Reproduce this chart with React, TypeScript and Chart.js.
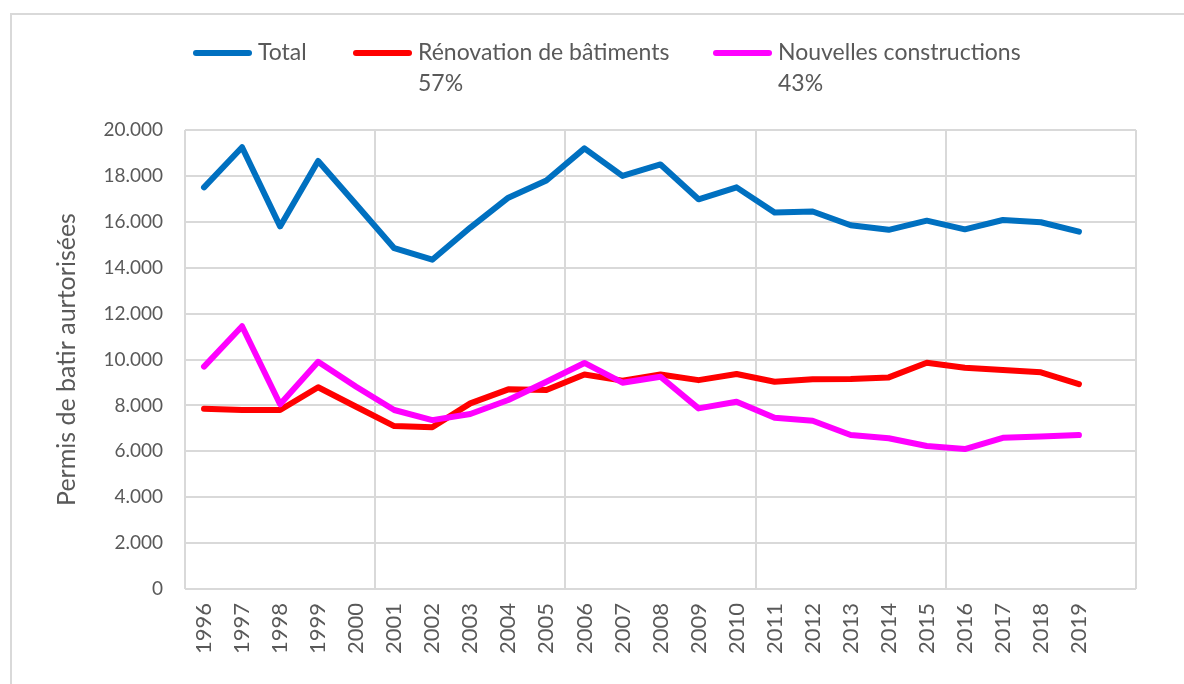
import { useEffect, useRef } from 'react';
import { Chart, registerables } from 'chart.js';

Chart.register(...registerables);

// ---- data ----
const YEARS = ['1996', '1997', '1998', '1999', '2000', '2001', '2002', '2003', '2004', '2005', '2006', '2007',
  '2008', '2009', '2010', '2011', '2012', '2013', '2014', '2015', '2016', '2017', '2018', '2019'];
const SPARE_CATEGORY = ['']; // empty slot Excel leaves at the right end of the axis

const TOTAL = [17500, 19250, 15800, 18650, 16750, 14850, 14350, 15750, 17050, 17800, 19200, 18000,
  18500, 16980, 17500, 16400, 16450, 15850, 15650, 16050, 15670, 16080, 15980, 15570];
const RENOVATION = [7850, 7800, 7800, 8790, 7940, 7100, 7050, 8090, 8700, 8670, 9350, 9080,
  9350, 9100, 9370, 9030, 9140, 9150, 9220, 9860, 9640, 9540, 9440, 8930];
const NOUVELLES = [9690, 11450, 8050, 9900, 8810, 7800, 7360, 7625, 8235, 9030, 9850, 8990,
  9250, 7870, 8160, 7460, 7330, 6710, 6570, 6230, 6100, 6590, 6640, 6710];

const SERIES_NAMES = ['Total', 'Rénovation de bâtiments', 'Nouvelles constructions'];
const SERIES_SHARES = ['', '57%', '43%'];
const SERIES_COLORS = ['#0070C0', '#FF0000', '#FF00FF'];
const Y_AXIS_TITLE = 'Permis de batir aurtorisées';
const Y_MIN = 0;
const Y_MAX = 20000;
const Y_STEP = 2000;

// ---- style ----
const FONT = 'Lato, "Open Sans", sans-serif';
const TEXT = '#595959';
const GRID = '#d9d9d9';
const PAD_LEFT = 40;

const formatThousands = (v: number) => String(v).replace(/\B(?=(\d{3})+(?!\d))/g, '.');

const excelLegend = {
  id: 'excelLegend',
  afterDraw(chart: any, _args: any, opts: any) {
    const { ctx } = chart;
    ctx.save();
    ctx.font = `${opts.fontSize}px ${FONT}`;
    ctx.textBaseline = 'middle';
    ctx.textAlign = 'left';
    chart.data.datasets.forEach((ds: any, i: number) => {
      const x0 = opts.itemX[i];
      ctx.strokeStyle = ds.borderColor;
      ctx.lineWidth = opts.lineWidth;
      ctx.lineCap = 'round';
      ctx.beginPath();
      ctx.moveTo(x0 + opts.lineWidth / 2, opts.y);
      ctx.lineTo(x0 + opts.lineLength - opts.lineWidth / 2, opts.y);
      ctx.stroke();
      ctx.fillStyle = TEXT;
      const tx = x0 + opts.lineLength + opts.textGap;
      ctx.fillText(ds.label, tx, opts.y);
      const share = SERIES_SHARES[i];
      if (share) ctx.fillText(share, tx, opts.y + opts.lineHeight);
    });
    ctx.restore();
  },
};

export default function App() {
  const canvasRef = useRef<HTMLCanvasElement | null>(null);

  useEffect(() => {
    if (!canvasRef.current) return;
    const seriesValues = [TOTAL, RENOVATION, NOUVELLES];
    const chart = new Chart(canvasRef.current, {
      type: 'line',
      data: {
        labels: [...YEARS, ...SPARE_CATEGORY],
        datasets: seriesValues.map((values, i) => ({
          label: SERIES_NAMES[i],
          data: values,
          borderColor: SERIES_COLORS[i],
          backgroundColor: SERIES_COLORS[i],
          borderWidth: 6,
          borderJoinStyle: 'round',
          borderCapStyle: 'round',
          pointRadius: 0,
          pointHoverRadius: 0,
          tension: 0,
          fill: false,
          order: 3 - i,
        })),
      },
      plugins: [excelLegend],
      options: {
        responsive: false,
        animation: false,
        events: [],
        layout: { padding: { left: PAD_LEFT, right: 48, top: 130, bottom: 0 } },
        plugins: {
          legend: { display: false },
          tooltip: { enabled: false },
          excelLegend: {
            itemX: [193, 353, 713],
            y: 53,
            lineLength: 59,
            lineWidth: 6,
            textGap: 6,
            fontSize: 23,
            lineHeight: 31,
          },
        } as any,
        scales: {
          x: {
            type: 'category',
            offset: true,
            afterFit: (scale: any) => { scale.height = 95; },
            grid: {
              offset: true,
              drawTicks: false,
              lineWidth: 2,
              color: (c: any) => (c.index === undefined || c.index % 5 === 0 ? GRID : 'rgba(0,0,0,0)'),
            },
            border: { display: false },
            ticks: {
              autoSkip: false,
              minRotation: 90,
              maxRotation: 90,
              padding: 14,
              color: TEXT,
              font: { family: FONT, size: 22 },
            },
          },
          y: {
            min: Y_MIN,
            max: Y_MAX,
            afterFit: (scale: any) => { scale.width = 185 - PAD_LEFT; },
            grid: { drawTicks: false, lineWidth: 2, color: GRID },
            border: { display: false },
            ticks: {
              stepSize: Y_STEP,
              padding: 22,
              color: TEXT,
              font: { family: FONT, size: 19 },
              callback: (v: any) => formatThousands(Number(v)),
            },
            title: {
              display: true,
              text: Y_AXIS_TITLE,
              color: TEXT,
              font: { family: FONT, size: 25 },
              padding: { top: 12, bottom: 0 },
            },
          },
        },
      } as any,
    });
    return () => chart.destroy();
  }, []);

  return (
    <div style={{ position: 'absolute', left: 0, top: 0, width: 1184, height: 684, overflow: 'hidden', background: '#fff' }}>
      <div style={{ position: 'absolute', left: 10, top: 13, width: 1200, height: 700, border: `2px solid ${GRID}` }} />
      <canvas ref={canvasRef} width={1184} height={684} style={{ position: 'absolute', left: 0, top: 0 }} />
    </div>
  );
}
